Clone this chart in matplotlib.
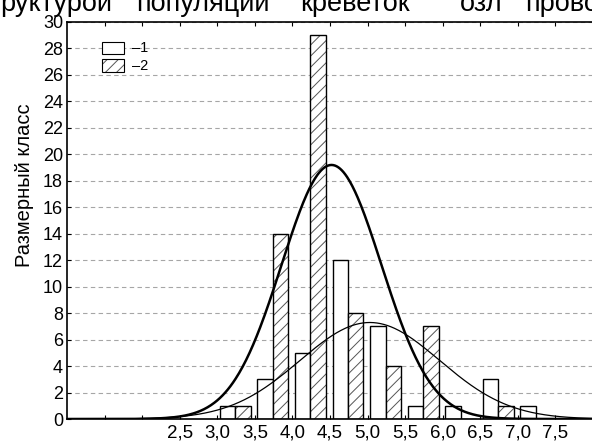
import matplotlib
matplotlib.use('Agg')
import matplotlib.pyplot as plt
import numpy as np
from matplotlib.patches import Rectangle

plt.rcParams['font.family'] = ['Liberation Sans', 'DejaVu Sans']
plt.rcParams['hatch.linewidth'] = 0.7

# ---- data ----
classes = [3.0, 3.5, 4.0, 4.5, 5.0, 5.5, 6.0, 6.5, 7.0]
series1 = [1, 3, 5, 12, 7, 1, 1, 3, 1]      # white bars (-1)
series2 = [1, 14, 29, 8, 4, 7, 0, 1, 0]     # hatched bars (-2)
xtick_pos = [1.5, 2.0, 2.5, 3.0, 3.5, 4.0, 4.5, 5.0, 5.5, 6.0, 6.5, 7.0, 7.5]
xtick_labels = ['', '', '2,5', '3,0', '3,5', '4,0', '4,5', '5,0', '5,5', '6,0', '6,5', '7,0', '7,5']
ytick_pos = list(range(0, 31, 2))
# fitted normal curves (mean, sd)
fit1_mean, fit1_sd = 5.03, 0.93
fit2_mean, fit2_sd = 4.52, 0.665
bin_width = 0.5
caption_words = ['руктурой', 'популяции', 'креветок', 'озл', 'прово']
caption_x_px = [0, 136, 300, 460, 525]

W, H = 592, 443
fig = plt.figure(figsize=(W / 100, H / 100), dpi=100)
ax = fig.add_axes([67 / W, 24 / H, 526 / W, 397 / H])

x = np.array(classes)
bw = 0.205
ax.bar(x + 0.1375, series1, width=bw, color='white', edgecolor='black', linewidth=1.0, zorder=2)
ax.bar(x + 0.3425, series2, width=bw, color='white', edgecolor='#555555', hatch='///', linewidth=0, zorder=2)
ax.bar(x + 0.3425, series2, width=bw, fill=False, edgecolor='black', linewidth=1.0, zorder=3)

xs = np.linspace(1.0, 8.0, 600)
def normal_curve(xv, n, mean, sd):
    return n * bin_width / (sd * np.sqrt(2 * np.pi)) * np.exp(-0.5 * ((xv - mean) / sd) ** 2)
ax.plot(xs, normal_curve(xs, sum(series1), fit1_mean, fit1_sd), color='black', linewidth=0.9, zorder=4)
ax.plot(xs, normal_curve(xs, sum(series2), fit2_mean, fit2_sd), color='black', linewidth=1.8, zorder=5)

ax.set_xlim(1.0, 8.0)
ax.set_ylim(0, 30)
ax.set_xticks(xtick_pos)
ax.set_xticklabels(xtick_labels, fontsize=13.5)
ax.set_yticks(ytick_pos)
ax.set_yticklabels([str(v) for v in ytick_pos], fontsize=13)
ax.tick_params(axis='x', which='both', top=True, bottom=True, direction='in', length=3, width=0.8, pad=4.0)
ax.tick_params(axis='y', direction='in', length=3, width=0.8, pad=2.9, right=False)
ax.yaxis.grid(True, linestyle=(0, (4, 3)), color='#a6a6a6', linewidth=0.8)
ax.set_axisbelow(True)
for s in ['left', 'bottom', 'top']:
    ax.spines[s].set_linewidth(1.2)
ax.spines['right'].set_visible(False)

ax.set_ylabel('Размерный класс', fontsize=14.5)
ax.yaxis.set_label_coords(-0.063, 0.589)

# legend (manual)
ax.add_patch(Rectangle((0.0665, 0.919), 0.0418, 0.030, transform=ax.transAxes,
                       facecolor='white', edgecolor='black', linewidth=0.8, zorder=6))
ax.add_patch(Rectangle((0.0665, 0.874), 0.0418, 0.033, transform=ax.transAxes,
                       facecolor='white', edgecolor='#555555', hatch='///', linewidth=0, zorder=6))
ax.add_patch(Rectangle((0.0665, 0.874), 0.0418, 0.033, transform=ax.transAxes,
                       fill=False, edgecolor='black', linewidth=0.8, zorder=7))
ax.text(0.1236, 0.934, '–1', transform=ax.transAxes, va='center', ha='left', fontsize=10.5)
ax.text(0.1236, 0.890, '–2', transform=ax.transAxes, va='center', ha='left', fontsize=10.5)

# cut-off caption at top
for w, px in zip(caption_words, caption_x_px):
    fig.text(px / W, 1 - 11 / H, w, ha='left', va='baseline', fontsize=19.5)

fig.savefig('out.png', dpi=100)
